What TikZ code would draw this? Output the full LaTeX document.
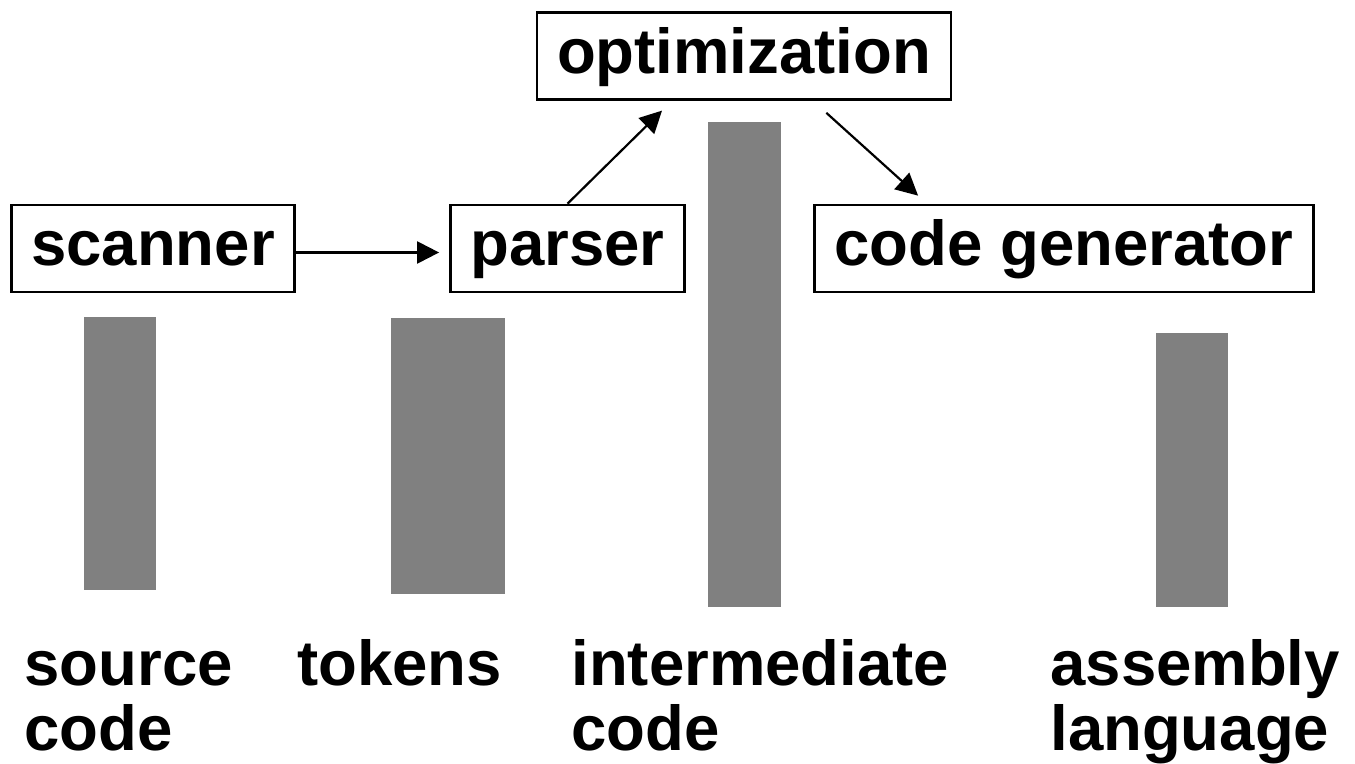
\documentclass[tikz,border=0pt]{standalone}
\usepackage{fontspec}
\setmainfont{Liberation Sans}
\usetikzlibrary{arrows.meta}
\begin{document}
\begin{tikzpicture}[x=0.5pt,y=-0.5pt,
    stage/.style ={draw, line width=1.3pt, font=\bfseries\fontsize{31.75}{32.5}\selectfont,
      inner xsep=10pt, inner ysep=0pt, minimum height=43.5pt, text height=23.8pt, text depth=6.7pt},
    data/.style ={anchor=base west, align=left, inner sep=0pt, font=\bfseries\fontsize{31.75}{32.5}\selectfont},
    bar/.style ={fill=black!50},
    flow/.style ={line width=1.1pt, -{Triangle[length=11pt,width=11pt]}}]
   \useasboundingbox (0,0) rectangle (1355,764);

   \node[stage] (scanner) at (153,248.5) {scanner};
   \node[stage] (parser) at (567.5,248.5) {parser};
   \node[stage] (optimization) at (744,56) {optimization};
   \node[stage] (generator) at (1064,248.5) {code generator};

   \fill[bar] (84,317) rectangle (156,590);
   \fill[bar] (391,318) rectangle (505,594);
   \fill[bar] (708,122) rectangle (781,607);
   \fill[bar] (1156,333) rectangle (1228,607);

   \node[data] (source) at (24,750) {source\\code};
   \node[data] (tokens) at (297,685) {tokens};
   \node[data] (intermediate) at (571,750) {intermediate\\code};
   \node[data] (assembly) at (1050,750) {assembly\\language};

   \draw[flow, shorten >=5pt] ([yshift=-2pt]scanner.east) to ([yshift=-2pt]parser.west);
   \draw[flow, shorten >=7pt] (parser.north) to ([xshift=-36pt]optimization.south);
   \draw[flow, shorten <=9pt, shorten >=6pt] ([xshift=34.5pt]optimization.south) to ([xshift=-68.5pt]generator.north);
 \end{tikzpicture}
\end{document}
